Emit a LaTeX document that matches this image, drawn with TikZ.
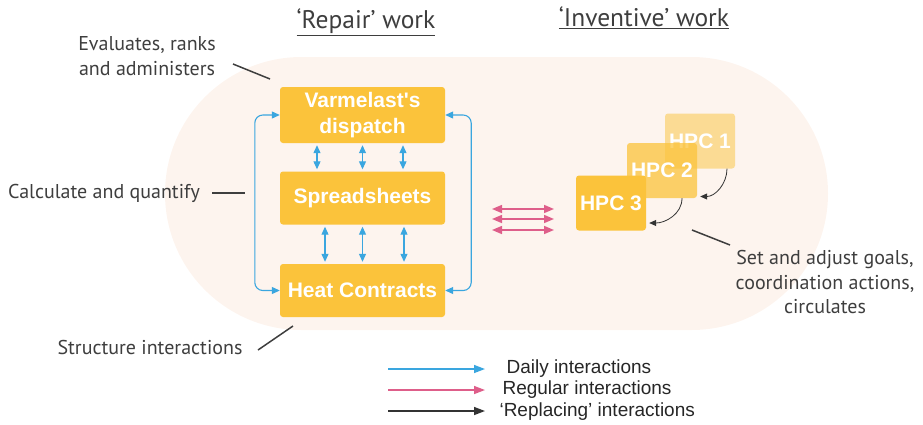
\documentclass[tikz,border=0pt]{standalone}
\usepackage{fontspec}
\setmainfont{Liberation Sans}
\newfontfamily\notefont{PT Sans}
\usetikzlibrary{arrows.meta, positioning}

\definecolor{boxyellow}{HTML}{FBC33B}
\definecolor{pillbg}{HTML}{FDF4EE}
\definecolor{dailyblue}{HTML}{3AA6DF}
\definecolor{regpink}{HTML}{DE5E8A}
\definecolor{replgray}{HTML}{333333}
\definecolor{notegray}{HTML}{3E3E3E}

\tikzset{
  box/.style={fill=boxyellow, rounded corners=3pt, text=white, align=center,
    font=\fontsize{21}{26}\selectfont\bfseries, inner sep=0pt,
    minimum width=165pt, minimum height=53pt},
  hpc/.style={box, minimum width=70pt, minimum height=55pt},
  note/.style={text=notegray, align=center, font=\notefont\fontsize{20}{24.5}\selectfont},
  title/.style={text=notegray, font=\notefont\fontsize{25.5}{28}\selectfont},
  pointer/.style={notegray, line width=1.5pt},
  daily/.style={dailyblue, line width=1.1pt, {Triangle[length=8pt,width=7pt]}-{Triangle[length=8pt,width=7pt]}},
  regular/.style={regpink, line width=1.5pt, {Triangle[length=10pt,width=8pt]}-{Triangle[length=10pt,width=8pt]}},
  repl/.style={replgray, line width=0.8pt, -{Triangle[length=7pt,width=6pt]}},
  legend/.style={line width=1.4pt, -{Triangle[length=11pt,width=8pt]}},
  legtext/.style={anchor=west, text=black!85, font=\fontsize{19}{21}\selectfont}
}

\begin{document}
\begin{tikzpicture}[x=1pt, y=-1pt]
\useasboundingbox (0,0) rectangle (923,424);
\fill[pillbg, rounded corners=136.5pt] (165,57) rectangle (828,330);

\node[box, minimum height=56pt] (1) at (362.5,115) {Varmelast\textquotesingle s\\dispatch};
\node[box] (2) at (362.5,198) {Spreadsheets};
\node[box] (3) at (362.5,290.5) {Heat Contracts};

\foreach \dx in {-45.5,0,40.5}
  \draw[daily, shorten <=2pt, shorten >=2pt] ([xshift=\dx pt]1.south) -- ([xshift=\dx pt]2.north);
\foreach \dx in {-37.5,0,41.5}
  \draw[daily, shorten <=2pt, shorten >=2pt] ([xshift=\dx pt]2.south) -- ([xshift=\dx pt]3.north);
\draw[daily, rounded corners=8pt] (1.west) -- ++(-25,0) |- (3.west);
\draw[daily, rounded corners=8pt] (1.east) -- ++(26,0) |- (3.east);

\foreach \y [count=\i] in {209,219,230} {
  \coordinate (pl\i) at (492,\y);
  \coordinate (pr\i) at (554,\y);
  \draw[regular] (pl\i) -- (pr\i);
}

\node[hpc, fill opacity=0.5, text opacity=1] (h1) at (700,141) {HPC 1};
\node[hpc, fill opacity=0.75, text opacity=1] (h2) at (662,170.5) {HPC 2};
\node[hpc] (h3) at (611,203) {HPC 3};
\draw[repl] ([xshift=27pt]h1.south) to[out=-90, in=0] ([xshift=3pt, yshift=-26pt]h2.east);
\draw[repl] ([xshift=20pt]h2.south) to[out=-90, in=0] ([xshift=3pt, yshift=-20pt]h3.east);

\node[title] (rt) at (366,22) {\underline{‘Repair’ work}};
\node[title] (it) at (644,18) {\underline{‘Inventive’ work}};

\node[note] (n1) at (147,56) {Evaluates, ranks\\and administers};
\coordinate (n1a) at (233,64);
\coordinate (n1b) at (270,79);
\draw[pointer] (n1a) -- (n1b);

\node[note] (n2) at (104,193) {Calculate and quantify};
\coordinate (n2a) at (212,193);
\coordinate (n2b) at (245,193);
\draw[pointer] (n2a) -- (n2b);

\node[note] (n3) at (150,347) {Structure interactions};
\coordinate (n3a) at (258,350);
\coordinate (n3b) at (293,326);
\draw[pointer] (n3a) -- (n3b);

\node[note] (n4) at (825,282) {Set and adjust goals,\\coordination actions,\\circulates};
\coordinate (n4a) at (692,230);
\coordinate (n4b) at (730,245);
\draw[pointer] (n4a) -- (n4b);

\coordinate (lg1a) at (388,369); \coordinate (lg1b) at (485,369);
\coordinate (lg2a) at (388,390); \coordinate (lg2b) at (485,390);
\coordinate (lg3a) at (388,411); \coordinate (lg3b) at (485,411);
\draw[legend, dailyblue] (lg1a) -- (lg1b);
\draw[legend, regpink] (lg2a) -- (lg2b);
\draw[legend, replgray] (lg3a) -- (lg3b);
\node[legtext] (l1) at (503,369) {Daily interactions};
\node[legtext] (l2) at (499,390) {Regular interactions};
\node[legtext] (l3) at (496,412) {‘Replacing’ interactions};
\end{tikzpicture}
\end{document}
